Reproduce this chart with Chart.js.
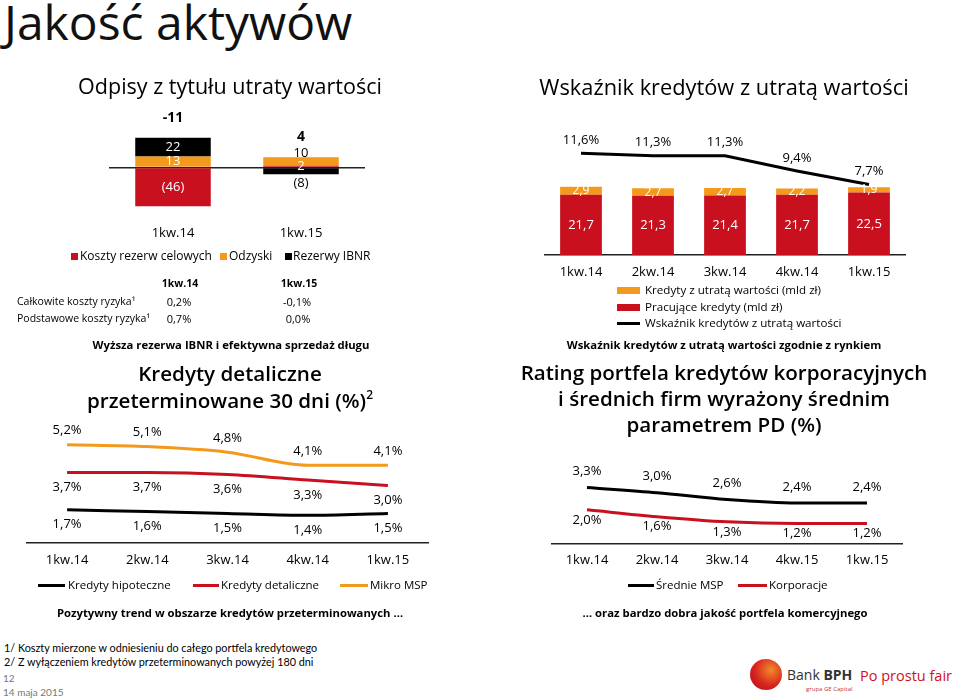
<!DOCTYPE html>
<html><head><meta charset="utf-8">
<script src="https://cdn.jsdelivr.net/npm/chart.js@4.4.0/dist/chart.umd.min.js"></script>
<style>
body{margin:0;width:960px;height:699px;position:relative;background:#fff;font-family:"Open Sans",Lato,sans-serif;color:#000;overflow:hidden}
.box{position:absolute}
.t{position:absolute;white-space:nowrap;line-height:1}
.c{transform:translate(-50%,-50%)}
.l{transform:translate(0,-50%)}
.b{font-weight:700}
.sub{font-weight:700;font-size:11.3px}
.big{font-size:20.6px;font-weight:600}
</style></head><body>
<div class="box" style="left:100px;top:100px;width:275px;height:155px"><canvas id="odpisy"></canvas></div>
<div class="box" style="left:530px;top:120px;width:390px;height:170px"><canvas id="npl"></canvas></div>
<div class="box" style="left:15px;top:420px;width:425px;height:158px"><canvas id="detal"></canvas></div>
<div class="box" style="left:540px;top:420px;width:375px;height:157px"><canvas id="rating"></canvas></div>
<div id="texts"></div>
<script>
// ---------- DATA ----------
const odpisyCategories = ['1kw.14', '1kw.15'];
const kosztyRezerwCelowych = [-46, 2];
const odzyski = [13, 10];
const rezerwyIBNR = [22, -8];
const odpisySuma = [-11, 4];

const kosztyRyzykaHeaders = ['1kw.14', '1kw.15'];
const calkowiteKosztyRyzyka = ['0,2%', '-0,1%'];
const podstawoweKosztyRyzyka = ['0,7%', '0,0%'];

const nplCategories = ['1kw.14', '2kw.14', '3kw.14', '4kw.14', '1kw.15'];
const kredytyZUtrataWartosci = [2.9, 2.7, 2.7, 2.2, 1.9];
const pracujaceKredyty = [21.7, 21.3, 21.4, 21.7, 22.5];
const wskaznikNPL = [11.6, 11.3, 11.3, 9.4, 7.7];

const detalCategories = ['1kw.14', '2kw.14', '3kw.14', '4kw.14', '1kw.15'];
const kredytyHipoteczne = [1.7, 1.6, 1.5, 1.4, 1.5];
const kredytyDetaliczne = [3.7, 3.7, 3.6, 3.3, 3.0];
const mikroMSP = [5.2, 5.1, 4.8, 4.1, 4.1];

const ratingCategories = ['1kw.14', '2kw.14', '3kw.14', '4kw.15', '1kw.15'];
const srednieMSP = [3.3, 3.0, 2.6, 2.4, 2.4];
const korporacje = [2.0, 1.6, 1.3, 1.2, 1.2];

// ---------- STYLE ----------
const RED = '#c8101e', ORANGE = '#f39a1d', BLACK = '#000000';
const FONT = "'Open Sans', Lato, sans-serif";
Chart.defaults.font.family = FONT;
Chart.defaults.color = '#000';

const pct = v => v.toFixed(1).replace('.', ',') + '%';
const num = v => v.toFixed(1).replace('.', ',');

function xAxis(pad, border) {
  return {
    grid: {display: false, drawTicks: false},
    border: border ? {display: true, color: '#222', width: 1.5} : {display: false},
    ticks: {font: {size: 13}, color: '#000', padding: pad, maxRotation: 0, autoSkip: false}
  };
}
const baseOpts = {responsive: true, maintainAspectRatio: false, animation: false,
  plugins: {legend: {display: false}, tooltip: {enabled: false}}};

// ---------- CHART 1: Odpisy ----------
const odpisyLabels = {
  id: 'odpisyLabels',
  afterDatasetsDraw(chart) {
    const ctx = chart.ctx; ctx.save();
    ctx.textAlign = 'center'; ctx.textBaseline = 'middle';
    chart.data.labels.forEach((_, j) => {
      let top = Infinity, bottom = -Infinity, x = 0; const segs = [];
      chart.data.datasets.forEach((ds, i) => {
        const el = chart.getDatasetMeta(i).data[j]; const v = ds.data[j];
        const t = Math.min(el.y, el.base), b = Math.max(el.y, el.base);
        top = Math.min(top, t); bottom = Math.max(bottom, b); x = el.x;
        segs.push({v, t, b});
      });
      ctx.font = '13px ' + FONT;
      segs.forEach(s => {
        const h = s.b - s.t; let y = (s.t + s.b) / 2, color = '#fff';
        if (h < 14) {
          if (s.v > 0 && s.t === top) { y = s.t - 4; color = '#000'; }
          else if (s.v < 0 && s.b === bottom) { y = s.b + 9; color = '#000'; }
        }
        ctx.fillStyle = color;
        ctx.fillText(s.v < 0 ? '(' + (-s.v) + ')' : String(s.v), x, y);
      });
      ctx.font = 'bold 14px ' + FONT; ctx.fillStyle = '#000';
      ctx.fillText(String(odpisySuma[j]), x, top - 20);
    });
    ctx.restore();
  }
};
const chart1 = new Chart(document.getElementById('odpisy'), {
  type: 'bar',
  data: {labels: odpisyCategories, datasets: [
    {label: 'Koszty rezerw celowych', data: kosztyRezerwCelowych, backgroundColor: RED},
    {label: 'Odzyski', data: odzyski, backgroundColor: ORANGE},
    {label: 'Rezerwy IBNR', data: rezerwyIBNR, backgroundColor: BLACK}
  ]},
  options: Object.assign({}, baseOpts, {
    layout: {padding: {left: 9, right: 10, top: 37, bottom: 0}},
    datasets: {bar: {barPercentage: 0.59, categoryPercentage: 1}},
    scales: {
      x: Object.assign(xAxis(13.6, false), {stacked: true}),
      y: {stacked: true, min: -53, max: 36,
        ticks: {display: false, stepSize: 10}, border: {display: false},
        grid: {drawTicks: false, lineWidth: 1.5, color: c => c.tick.value === 0 ? '#222' : 'rgba(0,0,0,0)'}}
    }
  }),
  plugins: [odpisyLabels]
});

// ---------- CHART 2: NPL ----------
const nplLabels = {
  id: 'nplLabels',
  afterDatasetsDraw(chart) {
    const ctx = chart.ctx; ctx.save();
    ctx.textAlign = 'center'; ctx.textBaseline = 'middle';
    chart.data.datasets.forEach((ds, i) => {
      const meta = chart.getDatasetMeta(i);
      meta.data.forEach((el, j) => {
        if (ds.type === 'line') {
          ctx.fillStyle = '#000'; ctx.font = '13px ' + FONT;
          ctx.fillText(pct(ds.data[j]), el.x, el.y - 13);
        } else {
          ctx.fillStyle = '#fff'; ctx.font = (i === 0 ? '13px ' : '12px ') + FONT;
          ctx.fillText(num(ds.data[j]), el.x, (el.y + el.base) / 2);
        }
      });
    });
    ctx.restore();
  }
};
const chart2 = new Chart(document.getElementById('npl'), {
  type: 'bar',
  data: {labels: nplCategories, datasets: [
    {label: 'Pracujące kredyty (mld zł)', data: pracujaceKredyty, backgroundColor: RED, order: 1, yAxisID: 'y'},
    {label: 'Kredyty z utratą wartości (mld zł)', data: kredytyZUtrataWartosci, backgroundColor: ORANGE, order: 2, yAxisID: 'y'},
    {type: 'line', label: 'Wskaźnik kredytów z utratą wartości', data: wskaznikNPL, borderColor: BLACK,
      borderWidth: 3, pointRadius: 0, tension: 0, order: 0, yAxisID: 'y1'}
  ]},
  options: Object.assign({}, baseOpts, {
    layout: {padding: {left: 15, right: 15, top: 14, bottom: 0}},
    datasets: {bar: {barPercentage: 0.58, categoryPercentage: 1}},
    scales: {
      x: Object.assign(xAxis(9.6, true), {stacked: true}),
      y: {stacked: true, display: false, min: 0, max: 43.5},
      y1: {display: false, min: -1.1, max: 14.0}
    }
  }),
  plugins: [nplLabels]
});

// ---------- line label helper ----------
function lineLabels(offsets) {
  return {
    id: 'lineLabels',
    afterDatasetsDraw(chart) {
      const ctx = chart.ctx; ctx.save();
      ctx.textAlign = 'center'; ctx.textBaseline = 'middle';
      ctx.font = '13px ' + FONT; ctx.fillStyle = '#000';
      chart.data.datasets.forEach((ds, i) => {
        chart.getDatasetMeta(i).data.forEach((pt, j) => ctx.fillText(pct(ds.data[j]), pt.x, pt.y + offsets[i]));
      });
      ctx.restore();
    }
  };
}

// ---------- CHART 3: Detaliczne ----------
const chart3 = new Chart(document.getElementById('detal'), {
  type: 'line',
  data: {labels: detalCategories, datasets: [
    {label: 'Kredyty hipoteczne', data: kredytyHipoteczne, borderColor: BLACK},
    {label: 'Kredyty detaliczne', data: kredytyDetaliczne, borderColor: RED},
    {label: 'Mikro MSP', data: mikroMSP, borderColor: ORANGE}
  ]},
  options: Object.assign({}, baseOpts, {
    layout: {padding: {left: 12, right: 12, top: 8, bottom: 0}},
    elements: {line: {borderWidth: 3, tension: 0.35, cubicInterpolationMode: 'monotone'}, point: {radius: 0}},
    scales: {
      x: Object.assign(xAxis(9.6, true), {offset: true}),
      y: {display: false, min: -0.1, max: 6.1}
    }
  }),
  plugins: [lineLabels([15, 15, -14])]
});

// ---------- CHART 4: Rating ----------
const chart4 = new Chart(document.getElementById('rating'), {
  type: 'line',
  data: {labels: ratingCategories, datasets: [
    {label: 'Średnie MSP', data: srednieMSP, borderColor: BLACK},
    {label: 'Korporacje', data: korporacje, borderColor: RED}
  ]},
  options: Object.assign({}, baseOpts, {
    layout: {padding: {left: 12, right: 13, top: 8, bottom: 0}},
    elements: {line: {borderWidth: 3, tension: 0.35, cubicInterpolationMode: 'monotone'}, point: {radius: 0}},
    scales: {
      x: Object.assign(xAxis(8.6, true), {offset: true}),
      y: {display: false, min: 0, max: 6.76}
    }
  }),
  plugins: [lineLabels([-16, 10])]
});

// ---------- TEXT / HTML ----------
const host = document.getElementById('texts');
function T(txt, x, y, cls, style) {
  const d = document.createElement('div');
  d.className = 't ' + (cls || 'c');
  d.style.left = x + 'px'; d.style.top = y + 'px';
  if (style) d.style.cssText += style;
  d.innerHTML = txt; host.appendChild(d); return d;
}
function swatch(x, y, w, h, color) {
  const d = document.createElement('div');
  d.style.cssText = `position:absolute;left:${x}px;top:${y - h / 2}px;width:${w}px;height:${h}px;background:${color}`;
  host.appendChild(d);
}
function legendFrom(chart, items, size) {
  items.forEach(it => {
    const ds = chart.data.datasets[it.i];
    const col = ds.type === 'line' || chart.config.type === 'line' ? ds.borderColor : ds.backgroundColor;
    swatch(it.x, it.y, it.w, it.h, col);
    T(ds.label, it.textX, it.y, 'l', 'font-size:' + size + 'px');
  });
}

T('Jakość aktywów', 4, 22, 'l', 'font-size:48px;color:#111');
T('Odpisy z tytułu utraty wartości', 230, 86, 'c', 'font-size:21.5px');
T('Wskaźnik kredytów z utratą wartości', 724, 87, 'c', 'font-size:21.8px');

// chart1 legend
legendFrom(chart1, [
  {i: 0, x: 71, y: 256, w: 7, h: 7, textX: 80},
  {i: 1, x: 220, y: 256, w: 7, h: 7, textX: 229},
  {i: 2, x: 285, y: 256, w: 7, h: 7, textX: 293}
], 12);
// risk cost table
T(kosztyRyzykaHeaders[0], 180, 283, 'c b', 'font-size:10.5px');
T(kosztyRyzykaHeaders[1], 299, 283, 'c b', 'font-size:10.5px');
T('Całkowite koszty ryzyka¹', 17, 301, 'l', 'font-size:10.5px');
T('Podstawowe koszty ryzyka¹', 17, 318, 'l', 'font-size:10.5px');
T(calkowiteKosztyRyzyka[0], 179, 301, 'c', 'font-size:11px');
T(calkowiteKosztyRyzyka[1], 297, 301, 'c', 'font-size:11px');
T(podstawoweKosztyRyzyka[0], 179, 318, 'c', 'font-size:11px');
T(podstawoweKosztyRyzyka[1], 298, 318, 'c', 'font-size:11px');

// chart2 legend (vertical)
legendFrom(chart2, [
  {i: 1, x: 617, y: 290, w: 23, h: 7, textX: 645},
  {i: 0, x: 617, y: 307, w: 23, h: 7, textX: 645},
  {i: 2, x: 617, y: 323, w: 23, h: 3, textX: 645}
], 11.6);

// chart3 titles & legend
T('Wyższa rezerwa IBNR i efektywna sprzedaż długu', 231, 345, 'c sub');
T('Kredyty detaliczne', 230, 373, 'c big');
T('przeterminowane 30 dni (%)<sup style="font-size:12px;vertical-align:9px">2</sup>', 230, 400, 'c big');
legendFrom(chart3, [
  {i: 0, x: 38, y: 585, w: 27, h: 3, textX: 68},
  {i: 1, x: 193, y: 585, w: 26, h: 3, textX: 221},
  {i: 2, x: 340, y: 585, w: 28, h: 3, textX: 370}
], 11.5);
T('Pozytywny trend w obszarze kredytów przeterminowanych …', 230, 613, 'c sub');

// chart4 titles & legend
T('Wskaźnik kredytów z utratą wartości zgodnie z rynkiem', 724, 345, 'c sub');
T('Rating portfela kredytów korporacyjnych', 724, 372, 'c big');
T('i średnich firm wyrażony średnim', 724, 398, 'c big');
T('parametrem PD (%)', 724, 424, 'c big');
legendFrom(chart4, [
  {i: 0, x: 628, y: 585, w: 26, h: 3, textX: 656},
  {i: 1, x: 738, y: 585, w: 29, h: 3, textX: 769}
], 11.5);
T('… oraz bardzo dobra jakość portfela komercyjnego', 725, 613, 'c sub');

// footnotes
T('1/ Koszty mierzone w odniesieniu do całego portfela kredytowego', 4, 648, 'l', 'font-family:Lato;font-size:10.8px');
T('2/ Z wyłączeniem kredytów przeterminowanych powyżej 180 dni', 4, 662, 'l', 'font-family:Lato;font-size:10.8px');
T('12', 3, 678, 'l', 'font-family:Lato;font-size:10px;color:#777');
T('14 maja 2015', 3, 692, 'l', 'font-family:Lato;font-size:10px;color:#777');

// logo
const logo = document.createElement('div');
logo.style.cssText = 'position:absolute;left:750px;top:659px;width:32px;height:31px;border-radius:50%;background:radial-gradient(circle at 65% 35%, #f08a2a 0%, #d8231f 55%, #a80f18 100%)';
host.appendChild(logo);
T('Bank <b>BPH</b>', 787, 675, 'l', 'font-size:14px;color:#333');
T('grupa GE Capital', 806, 689, 'l', 'font-size:6px;color:#c33');
T('Po prostu fair', 860, 676, 'l', 'font-size:14.5px;color:#d0101e');
</script>
</body></html>
